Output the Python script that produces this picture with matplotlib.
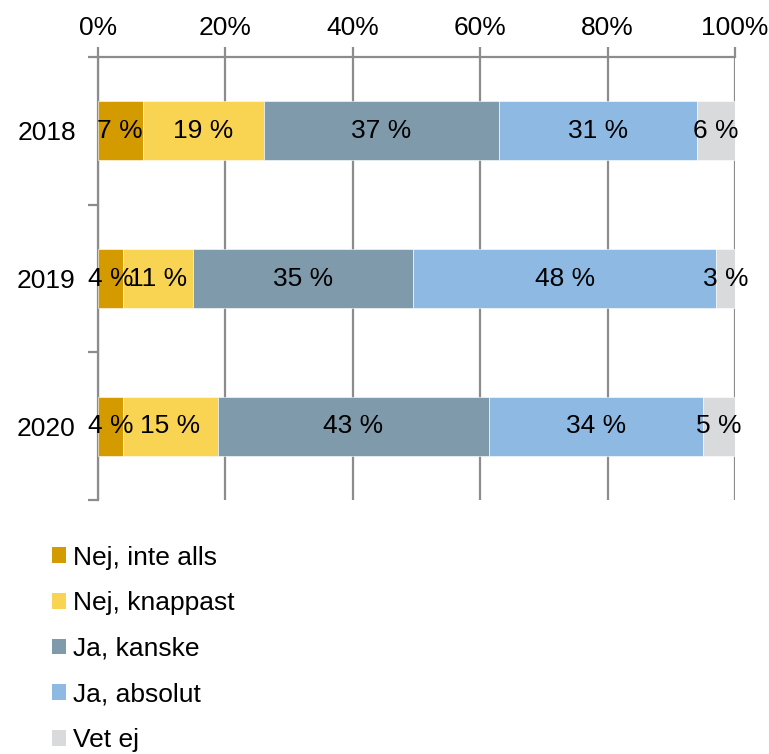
import numpy as np
import matplotlib.pyplot as plt
from matplotlib.patches import Patch

plt.rcParams['font.family'] = ['Liberation Sans', 'DejaVu Sans']

years = ["2018", "2019", "2020"]
answers = ["Nej, inte alls", "Nej, knappast", "Ja, kanske", "Ja, absolut", "Vet ej"]
colors = ["#D49B00", "#F9D352", "#7F9AAA", "#8DB9E3", "#D9DADC"]

nej_inte_alls = [7, 4, 4]
nej_knappast = [19, 11, 15]
ja_kanske = [37, 35, 43]
ja_absolut = [31, 48, 34]
vet_ej = [6, 3, 5]

series = np.array([nej_inte_alls, nej_knappast, ja_kanske, ja_absolut, vet_ej], dtype=float)
# 100 % stacked: scale each year to its own total
shares = series / series.sum(axis=0) * 100

fs = 19
fig = plt.figure(figsize=(7.69, 7.54), dpi=100)
ax = fig.add_axes([98 / 769, 1 - 500 / 754, (735 - 98) / 769, (500 - 57) / 754])

y = np.arange(len(years))
left = np.zeros(len(years))
for i in range(len(answers)):
    ax.barh(y, shares[i], left=left, height=0.4, color=colors[i],
            edgecolor="white", linewidth=0.4, zorder=3)
    for j in range(len(years)):
        ax.text(left[j] + shares[i][j] / 2, y[j], "%d %%" % series[i][j],
                ha="center", va="center", fontsize=fs, color="black", zorder=4)
    left += shares[i]

ax.set_xlim(0, 100)
ax.set_ylim(2.5, -0.5)
ax.set_xticks(np.arange(0, 101, 20))
ax.set_xticklabels(["%d%%" % v for v in range(0, 101, 20)])
ax.xaxis.tick_top()
ax.set_yticks(y)
ax.set_yticklabels(years)
ax.set_yticks([-0.5, 0.5, 1.5, 2.5], minor=True)

grey = "#8C8C8C"
ax.grid(axis="x", color=grey, linewidth=1.6, zorder=1)
ax.tick_params(axis="x", which="major", length=7, width=1.6, color=grey,
               labelsize=fs, pad=5)
ax.tick_params(axis="y", which="major", length=0, labelsize=fs, pad=16)
ax.tick_params(axis="y", which="minor", length=7, width=1.6, color=grey)
for side in ["right", "bottom"]:
    ax.spines[side].set_visible(False)
for side in ["left", "top"]:
    ax.spines[side].set_color(grey)
    ax.spines[side].set_linewidth(1.6)

handles = [Patch(facecolor=c, edgecolor="none") for c in colors]
fig.legend(handles, answers, loc="upper left", bbox_to_anchor=(41 / 769, 1 - 535 / 754),
           frameon=False, fontsize=fs, handlelength=0.55, handleheight=0.55,
           handletextpad=0.25, labelspacing=0.82, borderaxespad=0)

fig.savefig("out.png", dpi=100)
